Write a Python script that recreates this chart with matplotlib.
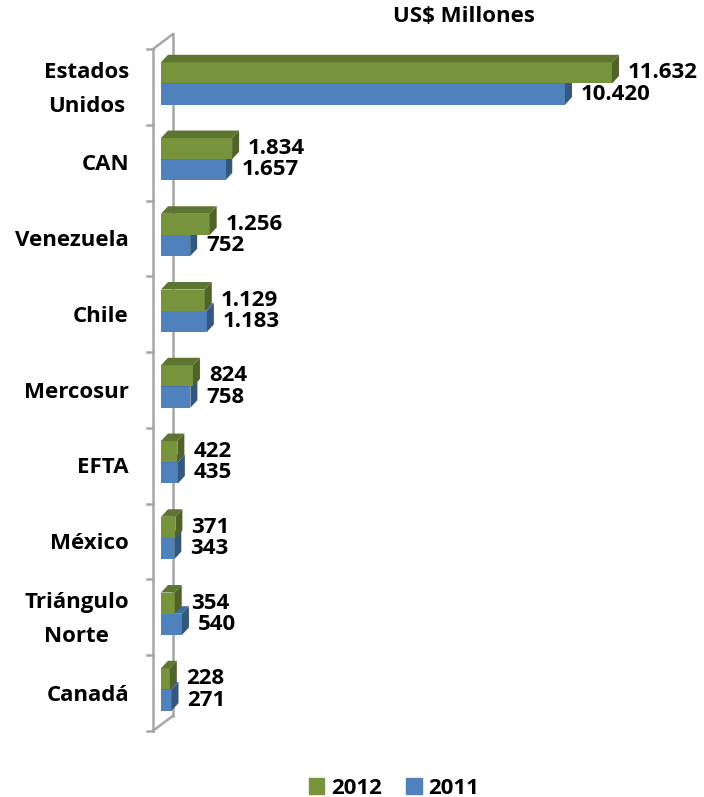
import matplotlib
matplotlib.use("Agg")
import matplotlib.pyplot as plt
from matplotlib.patches import Polygon, Patch

plt.rcParams['font.family'] = ['Open Sans', 'DejaVu Sans']
plt.rcParams['font.weight'] = 'bold'

categories = ["Estados\nUnidos", "CAN", "Venezuela", "Chile", "Mercosur",
              "EFTA", "México", "Triángulo\nNorte", "Canadá"]
v2012 = [11632, 1834, 1256, 1129, 824, 422, 371, 354, 228]
v2011 = [10420, 1657, 752, 1183, 758, 435, 343, 540, 271]

green, green_top, green_side = "#77933C", "#5D7530", "#4F6228"
blue, blue_top, blue_side = "#4F81BD", "#3F6A9E", "#34577F"
wall = "#A6A6A6"

# pixel -> data scale
PX = 1 / 0.03877   # data units per pixel along x
PY = 1 / 75.75     # category units per pixel along y

fig = plt.figure(figsize=(7.04, 7.97), dpi=100)
ax = fig.add_axes([0, 0, 1, 1])
ax.set_xlim(-161 * PX, (704 - 161) * PX)
ax.set_ylim((797 - 86.9) * PY, -86.9 * PY)
ax.axis("off")

n = len(categories)
pos = list(range(n))
h = 0.28
shift = -0.045
dx, dy = 7 * PX, -7.5 * PY


def faces(y_top, w, top_c, side_c, z):
    # top face and right side face of a 3D-looking bar
    y_bot = y_top + h
    top = Polygon([(0, y_top), (w, y_top), (w + dx, y_top + dy), (dx, y_top + dy)],
                  closed=True, fc=top_c, ec="none", zorder=z)
    side = Polygon([(w, y_top), (w, y_bot), (w + dx, y_bot + dy), (w + dx, y_top + dy)],
                   closed=True, fc=side_c, ec="none", zorder=z)
    ax.add_patch(top)
    ax.add_patch(side)


# wall / axis lines
fx, bx = -8 * PX, 12 * PX
wdy = -15 * PY
ax.plot([fx, fx], [-0.5, n - 0.5], color=wall, lw=1.8, zorder=1)
ax.plot([bx, bx], [-0.5 + wdy, n - 0.5 + wdy], color=wall, lw=1.8, zorder=1)
ax.plot([fx, bx], [-0.5, -0.5 + wdy], color=wall, lw=1.8, zorder=1)
ax.plot([fx, bx], [n - 0.5, n - 0.5 + wdy], color=wall, lw=1.8, zorder=1)
for i in range(n + 1):
    ax.plot([fx - 6 * PX, fx], [i - 0.5, i - 0.5], color=wall, lw=1.8, zorder=1)

g_y = [p + shift - h / 2 for p in pos]
b_y = [p + shift + h / 2 for p in pos]

ax.barh(b_y, v2011, height=h, color=blue, zorder=3)
for y, w in zip(b_y, v2011):
    faces(y - h / 2, w, blue_top, blue_side, 3)
ax.barh(g_y, v2012, height=h, color=green, zorder=5)
for y, w in zip(g_y, v2012):
    faces(y - h / 2, w, green_top, green_side, 5)


def fmt(v):
    return f"{v:,}".replace(",", ".")


for y, v in zip(g_y, v2012):
    ax.annotate(fmt(v), xy=(v, y), xytext=(16, 0), textcoords="offset pixels",
                ha="left", va="center", fontsize=16, fontweight="bold", zorder=6)
for y, v in zip(b_y, v2011):
    ax.annotate(fmt(v), xy=(v, y), xytext=(16, 0), textcoords="offset pixels",
                ha="left", va="center", fontsize=16, fontweight="bold", zorder=6)

for p, c in zip(pos, categories):
    ax.annotate(c, xy=(0, p + 0.03), xytext=(-32, 0), textcoords="offset pixels",
                ha="right", va="center", multialignment="center",
                fontsize=16, fontweight="bold", linespacing=1.8)

fig.text(464 / 704, 1 - 17 / 797, "US$ Millones", ha="center", va="center",
         fontsize=16, fontweight="bold")

handles = [Patch(color=green, label="2012"), Patch(color=blue, label="2011")]
fig.legend(handles=handles, loc="center", bbox_to_anchor=(394 / 704, 1 - 788 / 797),
           ncol=2, frameon=False, fontsize=16, handlelength=0.7, handleheight=0.7,
           handletextpad=0.3, columnspacing=1.1, borderpad=0)

fig.savefig("out.png", dpi=100)
